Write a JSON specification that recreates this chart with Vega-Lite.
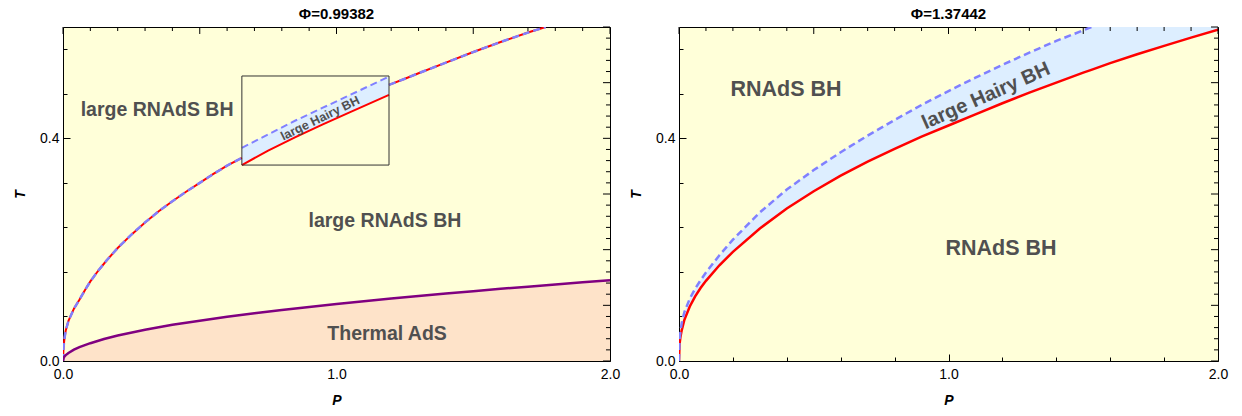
{
  "$schema": "https://vega.github.io/schema/vega-lite/v6.json",
  "background": "white",
  "padding": {"left": 13, "top": 6, "right": 5, "bottom": 0},
  "spacing": 8,
  "datasets": {
    "xt": [
      {"v": 0, "major": true}, {"v": 0.1, "major": false}, {"v": 0.2, "major": false}, {"v": 0.3, "major": false},
      {"v": 0.4, "major": false}, {"v": 0.5, "major": true}, {"v": 0.6, "major": false}, {"v": 0.7, "major": false},
      {"v": 0.8, "major": false}, {"v": 0.9, "major": false}, {"v": 1.0, "major": true}, {"v": 1.1, "major": false},
      {"v": 1.2, "major": false}, {"v": 1.3, "major": false}, {"v": 1.4, "major": false}, {"v": 1.5, "major": true},
      {"v": 1.6, "major": false}, {"v": 1.7, "major": false}, {"v": 1.8, "major": false}, {"v": 1.9, "major": false},
      {"v": 2.0, "major": true}
    ],
    "yt": [
      {"v": 0, "major": true}, {"v": 0.02, "major": false}, {"v": 0.04, "major": false}, {"v": 0.06, "major": false}, {"v": 0.08, "major": false},
      {"v": 0.1, "major": true}, {"v": 0.12, "major": false}, {"v": 0.14, "major": false}, {"v": 0.16, "major": false}, {"v": 0.18, "major": false},
      {"v": 0.2, "major": true}, {"v": 0.22, "major": false}, {"v": 0.24, "major": false}, {"v": 0.26, "major": false}, {"v": 0.28, "major": false},
      {"v": 0.3, "major": true}, {"v": 0.32, "major": false}, {"v": 0.34, "major": false}, {"v": 0.36, "major": false}, {"v": 0.38, "major": false},
      {"v": 0.4, "major": true}, {"v": 0.42, "major": false}, {"v": 0.44, "major": false}, {"v": 0.46, "major": false}, {"v": 0.48, "major": false},
      {"v": 0.5, "major": true}, {"v": 0.52, "major": false}, {"v": 0.54, "major": false}, {"v": 0.56, "major": false}, {"v": 0.58, "major": false},
      {"v": 0.6, "major": true}
    ],
    "purple": [
      {"P": 0, "T": 0}, {"P": 0.002, "T": 0.005}, {"P": 0.005, "T": 0.008}, {"P": 0.01, "T": 0.0105},
      {"P": 0.02, "T": 0.0145}, {"P": 0.04, "T": 0.0205}, {"P": 0.06, "T": 0.025}, {"P": 0.1, "T": 0.032},
      {"P": 0.15, "T": 0.0395}, {"P": 0.2, "T": 0.0458}, {"P": 0.3, "T": 0.056}, {"P": 0.4, "T": 0.065},
      {"P": 0.5, "T": 0.0725}, {"P": 0.6, "T": 0.0794}, {"P": 0.7, "T": 0.0858}, {"P": 0.8, "T": 0.0917},
      {"P": 0.9, "T": 0.0972}, {"P": 1.0, "T": 0.1025}, {"P": 1.1, "T": 0.1075}, {"P": 1.2, "T": 0.1123},
      {"P": 1.3, "T": 0.1169}, {"P": 1.4, "T": 0.1213}, {"P": 1.5, "T": 0.1255}, {"P": 1.6, "T": 0.1297},
      {"P": 1.7, "T": 0.1336}, {"P": 1.8, "T": 0.1375}, {"P": 1.9, "T": 0.1413}, {"P": 2.0, "T": 0.145}
    ],
    "leftCurve": [
      {"seg": "a", "P": 0, "T": 0}, {"seg": "a", "P": 0.002, "T": 0.025}, {"seg": "a", "P": 0.005, "T": 0.039},
      {"seg": "a", "P": 0.01, "T": 0.055}, {"seg": "a", "P": 0.02, "T": 0.072}, {"seg": "a", "P": 0.04, "T": 0.094},
      {"seg": "a", "P": 0.06, "T": 0.11}, {"seg": "a", "P": 0.08, "T": 0.127}, {"seg": "a", "P": 0.1, "T": 0.143},
      {"seg": "a", "P": 0.13, "T": 0.163}, {"seg": "a", "P": 0.16, "T": 0.181}, {"seg": "a", "P": 0.2, "T": 0.203},
      {"seg": "a", "P": 0.25, "T": 0.227}, {"seg": "a", "P": 0.3, "T": 0.249}, {"seg": "a", "P": 0.35, "T": 0.269},
      {"seg": "a", "P": 0.4, "T": 0.287}, {"seg": "a", "P": 0.45, "T": 0.304}, {"seg": "a", "P": 0.5, "T": 0.32},
      {"seg": "a", "P": 0.55, "T": 0.336}, {"seg": "a", "P": 0.6, "T": 0.351}, {"seg": "a", "P": 0.654, "T": 0.365},
      {"seg": "b", "P": 1.192, "T": 0.496}, {"seg": "b", "P": 1.25, "T": 0.507}, {"seg": "b", "P": 1.3, "T": 0.517},
      {"seg": "b", "P": 1.4, "T": 0.536}, {"seg": "b", "P": 1.5, "T": 0.555}, {"seg": "b", "P": 1.6, "T": 0.573},
      {"seg": "b", "P": 1.7, "T": 0.59}, {"seg": "b", "P": 1.765, "T": 0.6}
    ],
    "leftBox": [
      {"P": 0.654, "red": 0.352, "blue": 0.383}, {"P": 0.75, "red": 0.378, "blue": 0.407},
      {"P": 0.85, "red": 0.402, "blue": 0.432}, {"P": 0.95, "red": 0.425, "blue": 0.455},
      {"P": 1.05, "red": 0.447, "blue": 0.478}, {"P": 1.192, "red": 0.478, "blue": 0.511}
    ],
    "boxRect": [{"x1": 0.654, "x2": 1.192, "y1": 0.352, "y2": 0.512}],
    "labelsL": [
      {"P": 0.344, "T": 0.451, "text": "large RNAdS BH"},
      {"P": 1.177, "T": 0.251, "text": "large RNAdS BH"},
      {"P": 1.185, "T": 0.0485, "text": "Thermal AdS"}
    ],
    "hairyL": [{"P": 0.94, "T": 0.436, "text": "large Hairy BH"}],
    "right": [
      {"P": 0, "red": 0, "blue": 0, "top": 0},
      {"P": 0.002, "red": 0.03, "blue": 0.038, "top": 0.038},
      {"P": 0.005, "red": 0.042, "blue": 0.052, "top": 0.052},
      {"P": 0.01, "red": 0.055, "blue": 0.068, "top": 0.068},
      {"P": 0.02, "red": 0.074, "blue": 0.088, "top": 0.088},
      {"P": 0.04, "red": 0.098, "blue": 0.112, "top": 0.112},
      {"P": 0.06, "red": 0.116, "blue": 0.13, "top": 0.13},
      {"P": 0.08, "red": 0.131, "blue": 0.145, "top": 0.145},
      {"P": 0.1, "red": 0.144, "blue": 0.159, "top": 0.159},
      {"P": 0.15, "red": 0.172, "blue": 0.19, "top": 0.19},
      {"P": 0.2, "red": 0.196, "blue": 0.218, "top": 0.218},
      {"P": 0.3, "red": 0.238, "blue": 0.267, "top": 0.267},
      {"P": 0.4, "red": 0.274, "blue": 0.308, "top": 0.308},
      {"P": 0.5, "red": 0.305, "blue": 0.343, "top": 0.343},
      {"P": 0.6, "red": 0.333, "blue": 0.375, "top": 0.375},
      {"P": 0.7, "red": 0.358, "blue": 0.405, "top": 0.405},
      {"P": 0.8, "red": 0.381, "blue": 0.433, "top": 0.433},
      {"P": 0.9, "red": 0.403, "blue": 0.46, "top": 0.46},
      {"P": 1.0, "red": 0.423, "blue": 0.485, "top": 0.485},
      {"P": 1.1, "red": 0.443, "blue": 0.509, "top": 0.509},
      {"P": 1.2, "red": 0.463, "blue": 0.532, "top": 0.532},
      {"P": 1.3, "red": 0.482, "blue": 0.554, "top": 0.554},
      {"P": 1.4, "red": 0.5, "blue": 0.575, "top": 0.575},
      {"P": 1.5, "red": 0.518, "blue": 0.594, "top": 0.594},
      {"P": 1.53, "red": 0.523, "blue": 0.6, "top": 0.6},
      {"P": 1.6, "red": 0.535, "blue": null, "top": 0.6},
      {"P": 1.7, "red": 0.551, "blue": null, "top": 0.6},
      {"P": 1.8, "red": 0.566, "blue": null, "top": 0.6},
      {"P": 1.9, "red": 0.581, "blue": null, "top": 0.6},
      {"P": 2.0, "red": 0.595, "blue": null, "top": 0.6}
    ],
    "labelsR": [
      {"P": 0.397, "T": 0.487, "text": "RNAdS BH"},
      {"P": 1.195, "T": 0.201, "text": "RNAdS BH"}
    ],
    "hairyR": [{"P": 1.139, "T": 0.476, "text": "large Hairy BH"}]
  },
  "hconcat": [
    {
      "title": {"text": "Φ=0.99382", "fontSize": 15, "fontWeight": "bold", "font": "Liberation Sans", "color": "#000000"},
      "width": 547,
      "height": 334,
      "layer": [
        {
          "data": {"name": "purple"},
          "mark": {"type": "area", "color": "#FEE3C9", "clip": true},
          "encoding": {
            "x": {"field": "P", "type": "quantitative", "scale": {"domain": [0, 2], "nice": false, "zero": false},
              "axis": {"orient": "bottom", "values": [0,0.1,0.2,0.3,0.4,0.5,0.6,0.7,0.8,0.9,1,1.1,1.2,1.3,1.4,1.5,1.6,1.7,1.8,1.9,2],
                "labelExpr": "abs(datum.value*2-round(datum.value*2))<0.001 ? format(datum.value,'.1f') : ''",
                "tickSize": {"condition": {"test": "abs(datum.value*2-round(datum.value*2))<0.001", "value": -7}, "value": -4},
                "labelPadding": 13, "title": "P", "titlePadding": 9}},
            "y": {"field": "T", "type": "quantitative", "scale": {"domain": [0, 0.6], "nice": false},
              "axis": {"orient": "left", "values": [0,0.02,0.04,0.06,0.08,0.1,0.12,0.14,0.16,0.18,0.2,0.22,0.24,0.26,0.28,0.3,0.32,0.34,0.36,0.38,0.4,0.42,0.44,0.46,0.48,0.5,0.52,0.54,0.56,0.58,0.6],
                "labelExpr": "abs(datum.value*10-round(datum.value*10))<0.001 ? format(datum.value,'.1f') : ''",
                "tickSize": {"condition": {"test": "abs(datum.value*10-round(datum.value*10))<0.001", "value": -7}, "value": -4},
                "labelPadding": 11, "title": "T", "titlePadding": 12}},
            "y2": {"datum": 0}
          }
        },
        {
          "data": {"name": "leftBox"},
          "mark": {"type": "area", "color": "#DDEEFF"},
          "encoding": {
            "x": {"field": "P", "type": "quantitative"},
            "y": {"field": "red", "type": "quantitative"},
            "y2": {"field": "blue"}
          }
        },
        {
          "data": {"name": "leftCurve"},
          "mark": {"type": "line", "color": "#FF0000", "strokeWidth": 2, "clip": true},
          "encoding": {
            "x": {"field": "P", "type": "quantitative"},
            "y": {"field": "T", "type": "quantitative"},
            "detail": {"field": "seg"}
          }
        },
        {
          "data": {"name": "leftBox"},
          "mark": {"type": "line", "color": "#FF0000", "strokeWidth": 2},
          "encoding": {
            "x": {"field": "P", "type": "quantitative"},
            "y": {"field": "red", "type": "quantitative"}
          }
        },
        {
          "data": {"name": "leftCurve"},
          "mark": {"type": "line", "color": "#8080FF", "strokeWidth": 2.5, "strokeDash": [7, 4], "clip": true},
          "encoding": {
            "x": {"field": "P", "type": "quantitative"},
            "y": {"field": "T", "type": "quantitative"},
            "detail": {"field": "seg"}
          }
        },
        {
          "data": {"name": "leftBox"},
          "mark": {"type": "line", "color": "#8080FF", "strokeWidth": 2, "strokeDash": [7, 4]},
          "encoding": {
            "x": {"field": "P", "type": "quantitative"},
            "y": {"field": "blue", "type": "quantitative"}
          }
        },
        {
          "data": {"name": "purple"},
          "mark": {"type": "line", "color": "#800080", "strokeWidth": 2.5, "clip": true},
          "encoding": {
            "x": {"field": "P", "type": "quantitative"},
            "y": {"field": "T", "type": "quantitative"}
          }
        },
        {
          "data": {"name": "boxRect"},
          "mark": {"type": "rect", "fill": "transparent", "stroke": "#333333", "strokeWidth": 1},
          "encoding": {
            "x": {"field": "x1", "type": "quantitative"},
            "x2": {"field": "x2"},
            "y": {"field": "y1", "type": "quantitative"},
            "y2": {"field": "y2"}
          }
        },
        {
          "data": {"name": "xt"}, "transform": [{"filter": "datum.major"}],
          "mark": {"type": "rule", "color": "#000000", "strokeWidth": 1},
          "encoding": {"x": {"field": "v", "type": "quantitative"}, "y": {"datum": 0.6, "type": "quantitative"}, "y2": {"datum": 0.58743}}
        },
        {
          "data": {"name": "xt"}, "transform": [{"filter": "!datum.major"}],
          "mark": {"type": "rule", "color": "#000000", "strokeWidth": 1},
          "encoding": {"x": {"field": "v", "type": "quantitative"}, "y": {"datum": 0.6, "type": "quantitative"}, "y2": {"datum": 0.59281}}
        },
        {
          "data": {"name": "yt"}, "transform": [{"filter": "datum.major"}],
          "mark": {"type": "rule", "color": "#000000", "strokeWidth": 1},
          "encoding": {"y": {"field": "v", "type": "quantitative"}, "x": {"datum": 2, "type": "quantitative"}, "x2": {"datum": 1.9744}}
        },
        {
          "data": {"name": "yt"}, "transform": [{"filter": "!datum.major"}],
          "mark": {"type": "rule", "color": "#000000", "strokeWidth": 1},
          "encoding": {"y": {"field": "v", "type": "quantitative"}, "x": {"datum": 2, "type": "quantitative"}, "x2": {"datum": 1.98537}}
        },
        {
          "data": {"name": "labelsL"},
          "mark": {"type": "text", "font": "Liberation Sans", "fontWeight": "bold", "fontSize": 19.5, "color": "#505050", "baseline": "middle", "align": "center"},
          "encoding": {
            "x": {"field": "P", "type": "quantitative"},
            "y": {"field": "T", "type": "quantitative"},
            "text": {"field": "text"}
          }
        },
        {
          "data": {"name": "hairyL"},
          "mark": {"type": "text", "font": "Liberation Sans", "fontWeight": "bold", "fontSize": 12.5, "color": "#505050", "baseline": "middle", "align": "center", "angle": 334},
          "encoding": {
            "x": {"field": "P", "type": "quantitative"},
            "y": {"field": "T", "type": "quantitative"},
            "text": {"field": "text"}
          }
        }
      ]
    },
    {
      "title": {"text": "Φ=1.37442", "fontSize": 15, "fontWeight": "bold", "font": "Liberation Sans", "color": "#000000"},
      "width": 539,
      "height": 334,
      "layer": [
        {
          "data": {"name": "right"},
          "mark": {"type": "area", "color": "#DDEEFF", "clip": true},
          "encoding": {
            "x": {"field": "P", "type": "quantitative", "scale": {"domain": [0, 2], "nice": false, "zero": false},
              "axis": {"orient": "bottom", "values": [0,0.1,0.2,0.3,0.4,0.5,0.6,0.7,0.8,0.9,1,1.1,1.2,1.3,1.4,1.5,1.6,1.7,1.8,1.9,2],
                "labelExpr": "abs(datum.value*2-round(datum.value*2))<0.001 ? format(datum.value,'.1f') : ''",
                "tickSize": {"condition": {"test": "abs(datum.value*2-round(datum.value*2))<0.001", "value": -7}, "value": -4},
                "labelPadding": 13, "title": "P", "titlePadding": 9}},
            "y": {"field": "red", "type": "quantitative", "scale": {"domain": [0, 0.6], "nice": false},
              "axis": {"orient": "left", "values": [0,0.02,0.04,0.06,0.08,0.1,0.12,0.14,0.16,0.18,0.2,0.22,0.24,0.26,0.28,0.3,0.32,0.34,0.36,0.38,0.4,0.42,0.44,0.46,0.48,0.5,0.52,0.54,0.56,0.58,0.6],
                "labelExpr": "abs(datum.value*10-round(datum.value*10))<0.001 ? format(datum.value,'.1f') : ''",
                "tickSize": {"condition": {"test": "abs(datum.value*10-round(datum.value*10))<0.001", "value": -7}, "value": -4},
                "labelPadding": 11, "title": "T", "titlePadding": 12}},
            "y2": {"field": "top"}
          }
        },
        {
          "data": {"name": "right"},
          "mark": {"type": "line", "color": "#FF0000", "strokeWidth": 2.5, "clip": true},
          "encoding": {
            "x": {"field": "P", "type": "quantitative"},
            "y": {"field": "red", "type": "quantitative"}
          }
        },
        {
          "data": {"name": "right"},
          "mark": {"type": "line", "color": "#8080FF", "strokeWidth": 2.5, "strokeDash": [7, 4], "clip": true},
          "encoding": {
            "x": {"field": "P", "type": "quantitative"},
            "y": {"field": "blue", "type": "quantitative"}
          }
        },
        {
          "data": {"name": "xt"}, "transform": [{"filter": "datum.major"}],
          "mark": {"type": "rule", "color": "#000000", "strokeWidth": 1},
          "encoding": {"x": {"field": "v", "type": "quantitative"}, "y": {"datum": 0.6, "type": "quantitative"}, "y2": {"datum": 0.58743}}
        },
        {
          "data": {"name": "xt"}, "transform": [{"filter": "!datum.major"}],
          "mark": {"type": "rule", "color": "#000000", "strokeWidth": 1},
          "encoding": {"x": {"field": "v", "type": "quantitative"}, "y": {"datum": 0.6, "type": "quantitative"}, "y2": {"datum": 0.59281}}
        },
        {
          "data": {"name": "yt"}, "transform": [{"filter": "datum.major"}],
          "mark": {"type": "rule", "color": "#000000", "strokeWidth": 1},
          "encoding": {"y": {"field": "v", "type": "quantitative"}, "x": {"datum": 2, "type": "quantitative"}, "x2": {"datum": 1.974}}
        },
        {
          "data": {"name": "yt"}, "transform": [{"filter": "!datum.major"}],
          "mark": {"type": "rule", "color": "#000000", "strokeWidth": 1},
          "encoding": {"y": {"field": "v", "type": "quantitative"}, "x": {"datum": 2, "type": "quantitative"}, "x2": {"datum": 1.98516}}
        },
        {
          "data": {"name": "labelsR"},
          "mark": {"type": "text", "font": "Liberation Sans", "fontWeight": "bold", "fontSize": 21.5, "color": "#505050", "baseline": "middle", "align": "center"},
          "encoding": {
            "x": {"field": "P", "type": "quantitative"},
            "y": {"field": "T", "type": "quantitative"},
            "text": {"field": "text"}
          }
        },
        {
          "data": {"name": "hairyR"},
          "mark": {"type": "text", "font": "Liberation Sans", "fontWeight": "bold", "fontSize": 20, "color": "#505050", "baseline": "middle", "align": "center", "angle": 336},
          "encoding": {
            "x": {"field": "P", "type": "quantitative"},
            "y": {"field": "T", "type": "quantitative"},
            "text": {"field": "text"}
          }
        }
      ]
    }
  ],
  "config": {
    "font": "Liberation Sans",
    "view": {"fill": "#FFFFD9", "stroke": "#000000", "strokeWidth": 1},
    "axis": {
      "labelFont": "Liberation Sans", "labelFontSize": 14, "labelColor": "#000000",
      "domain": false, "grid": false, "ticks": true, "tickColor": "#000000", "labelOverlap": false, "labelFlush": false,
      "titleFont": "Liberation Sans", "titleFontSize": 14, "titleFontStyle": "italic", "titleFontWeight": "bold", "titleColor": "#000000"
    },
    "title": {"font": "Liberation Sans", "fontSize": 15, "fontWeight": "bold", "color": "#000000", "offset": 5}
  }
}
